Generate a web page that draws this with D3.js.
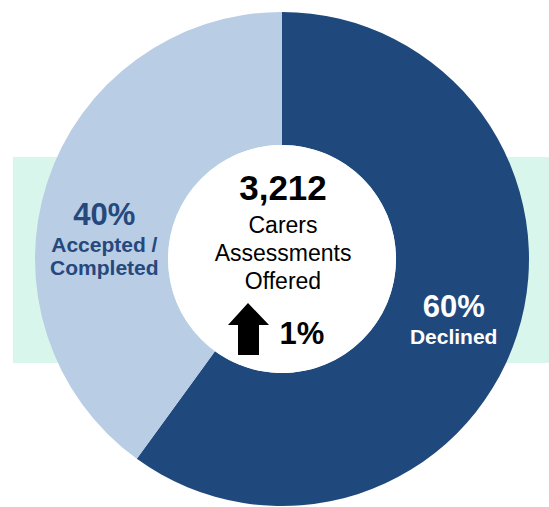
<!DOCTYPE html>
<html>
<head>
<meta charset="utf-8">
<script src="https://cdn.jsdelivr.net/npm/d3@7"></script>
<style>
  body { margin: 0; background: #fff; }
  text { font-family: "Liberation Sans", Arial, sans-serif; }
</style>
</head>
<body>
<div id="donut"></div>
<script>
// data
var categories = ["Declined", "Accepted / Completed"];
var values = [60, 40];
var labelLines = [["Declined"], ["Accepted /", "Completed"]];
var totalOffered = 3212;
var centreLines = ["Carers", "Assessments", "Offered"];
var changePct = 1;

var width = 549, height = 507;
var cx = 282, cy = 259;
var outerR = 247, innerR = 114;

var colors = d3.scaleOrdinal().domain(categories).range(["#1f497d", "#b9cde5"]);
var textColors = d3.scaleOrdinal().domain(categories).range(["#ffffff", "#25487d"]);

var svg = d3.select("#donut").append("svg")
    .attr("width", width)
    .attr("height", height);

// mint band behind the ring
svg.append("rect")
    .attr("x", 13)
    .attr("y", 157)
    .attr("width", width - 13)
    .attr("height", 206)
    .attr("fill", "#d9f6ec");

var g = svg.append("g")
    .attr("transform", "translate(" + cx + "," + cy + ")");

var pie = d3.pie().sort(null).value(function (d) { return d.value; });
var arc = d3.arc().innerRadius(innerR).outerRadius(outerR);

var data = categories.map(function (c, i) {
    return {name: c, value: values[i], lines: labelLines[i]};
});
var arcs = pie(data);

g.selectAll("path.slice")
    .data(arcs)
    .enter()
    .append("path")
    .attr("class", "slice")
    .attr("d", arc)
    .attr("fill", function (d) { return colors(d.data.name); });

// white hole
g.append("circle").attr("r", innerR).attr("fill", "#fff");

// slice labels, nudged off the centroid a bit
var nudge = [{dx: 0, dy: 2}, {dx: -6, dy: 22}];
var total = d3.sum(values);

var labels = g.selectAll("g.lbl")
    .data(arcs)
    .enter()
    .append("g")
    .attr("class", "lbl")
    .attr("transform", function (d, i) {
        var c = arc.centroid(d);
        return "translate(" + (c[0] + nudge[i].dx) + "," + (c[1] + nudge[i].dy) + ")";
    })
    .attr("fill", function (d) { return textColors(d.data.name); })
    .attr("text-anchor", "middle")
    .attr("font-weight", "bold");

labels.append("text")
    .attr("font-size", 31)
    .text(function (d) { return Math.round(d.data.value / total * 100) + "%"; });

labels.each(function (d) {
    var sel = d3.select(this);
    d.data.lines.forEach(function (t, j) {
        sel.append("text")
            .attr("y", 27 + j * 23)
            .attr("font-size", 21)
            .text(t);
    });
});

// centre text
var centre = g.append("g").attr("text-anchor", "middle").attr("fill", "#000");

centre.append("text")
    .attr("x", 1)
    .attr("y", -59)
    .attr("font-size", 35)
    .attr("font-weight", "bold")
    .text(d3.format(",")(totalOffered));

centre.selectAll("text.sub")
    .data(centreLines)
    .enter()
    .append("text")
    .attr("class", "sub")
    .attr("x", 1)
    .attr("y", function (d, i) { return -26 + i * 28; })
    .attr("font-size", 23)
    .text(function (d) { return d; });

// up arrow + change
var arrow = g.append("path")
    .attr("d", "M-34,44 L-13,66 L-23,66 L-23,96 L-44,96 L-44,66 L-54,66 Z")
    .attr("fill", "#000");

centre.append("text")
    .attr("x", 20)
    .attr("y", 85)
    .attr("font-size", 31)
    .attr("font-weight", "bold")
    .text(changePct + "%");
</script>
</body>
</html>
